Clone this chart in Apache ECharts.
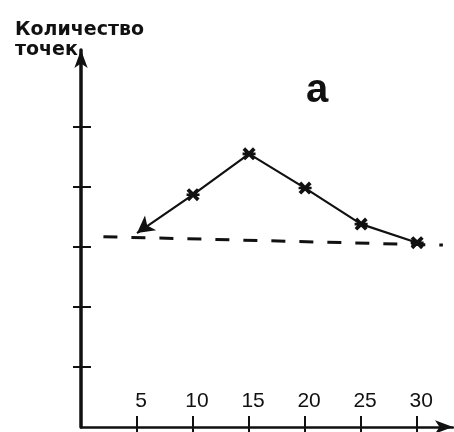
<!DOCTYPE html>
<html>
<head>
<meta charset="utf-8">
<script src="https://cdn.jsdelivr.net/npm/echarts@6/dist/echarts.min.js"></script>
<style>
  html, body { margin: 0; padding: 0; background: #fff; }
  #chart { width: 454px; height: 432px; }
</style>
</head>
<body>
<div id="chart"></div>
<script>
// данные
var xValues = [5, 10, 15, 20, 25, 30];
var pointCounts = [3.23, 3.87, 4.55, 3.98, 3.38, 3.07];
var baselineX = [2, 32.3];
var baselineY = [3.17, 3.03];
var xTicks = [5, 10, 15, 20, 25, 30];
var yTicks = [1, 2, 3, 4, 5];

var ink = '#111';
var xMax = 33.2, yMax = 6.28;
var starPath = 'path://M0,2 L2,0 L5,3 L8,0 L10,2 L7,5 L10,8 L8,10 L5,7 L2,10 L0,8 L3,5 Z M0,4 L10,4 L10,6 L0,6 Z';

var mainData = xValues.map(function(x, i) {
  if (i === 0) {
    return { value: [x, pointCounts[i]], symbol: 'arrow', symbolSize: [14, 17], symbolRotate: 127 };
  }
  return [x, pointCounts[i]];
});
var baseData = baselineX.map(function(x, i) { return [x, baselineY[i]]; });

var chart = echarts.init(document.getElementById('chart'), null, { renderer: 'canvas' });
chart.setOption({
  backgroundColor: '#fff',
  animation: false,
  title: [
    {
      text: 'Количество\nточек',
      left: 10, top: 15,
      textStyle: { fontFamily: 'DejaVu Sans', fontSize: 19, fontWeight: 'bold', color: ink, lineHeight: 20 }
    },
    {
      text: 'a',
      left: 301, top: 66,
      textStyle: { fontFamily: 'Liberation Sans', fontSize: 40, fontWeight: 'bold', color: ink }
    }
  ],
  grid: { left: 81, right: 1, top: 50, bottom: 5 },
  xAxis: [
    {
      type: 'value', min: 0, max: xMax, position: 'bottom',
      splitLine: { show: false },
      axisLine: { lineStyle: { color: ink, width: 2.5 }, symbol: ['none', 'arrow'], symbolSize: [10, 18] },
      axisTick: { inside: true, length: 11, lineStyle: { color: ink, width: 2 }, customValues: xTicks },
      axisLabel: { inside: true, margin: 15, padding: [0, 0, 0, 8], fontFamily: 'Liberation Sans', fontSize: 21, color: ink, customValues: xTicks }
    },
    {
      type: 'value', min: 0, max: xMax, position: 'bottom',
      splitLine: { show: false },
      axisLine: { show: false },
      axisTick: { inside: false, length: 5, lineStyle: { color: ink, width: 2 }, customValues: xTicks },
      axisLabel: { show: false }
    }
  ],
  yAxis: [
    {
      type: 'value', min: 0, max: yMax, position: 'left',
      splitLine: { show: false },
      axisLine: { lineStyle: { color: ink, width: 3.5 }, symbol: ['none', 'arrow'], symbolSize: [10, 18] },
      axisTick: { inside: true, length: 10, lineStyle: { color: ink, width: 2 }, customValues: yTicks },
      axisLabel: { show: false }
    },
    {
      type: 'value', min: 0, max: yMax, position: 'left',
      splitLine: { show: false },
      axisLine: { show: false },
      axisTick: { inside: false, length: 8, lineStyle: { color: ink, width: 2 }, customValues: yTicks },
      axisLabel: { show: false }
    }
  ],
  series: [
    {
      type: 'line',
      data: baseData,
      symbol: 'none',
      lineStyle: { color: ink, width: 3, type: [14, 14] },
      z: 1
    },
    {
      type: 'line',
      data: mainData,
      symbol: starPath,
      symbolSize: 13,
      itemStyle: { color: ink },
      lineStyle: { color: ink, width: 2.2 },
      z: 2
    }
  ]
});
</script>
</body>
</html>
